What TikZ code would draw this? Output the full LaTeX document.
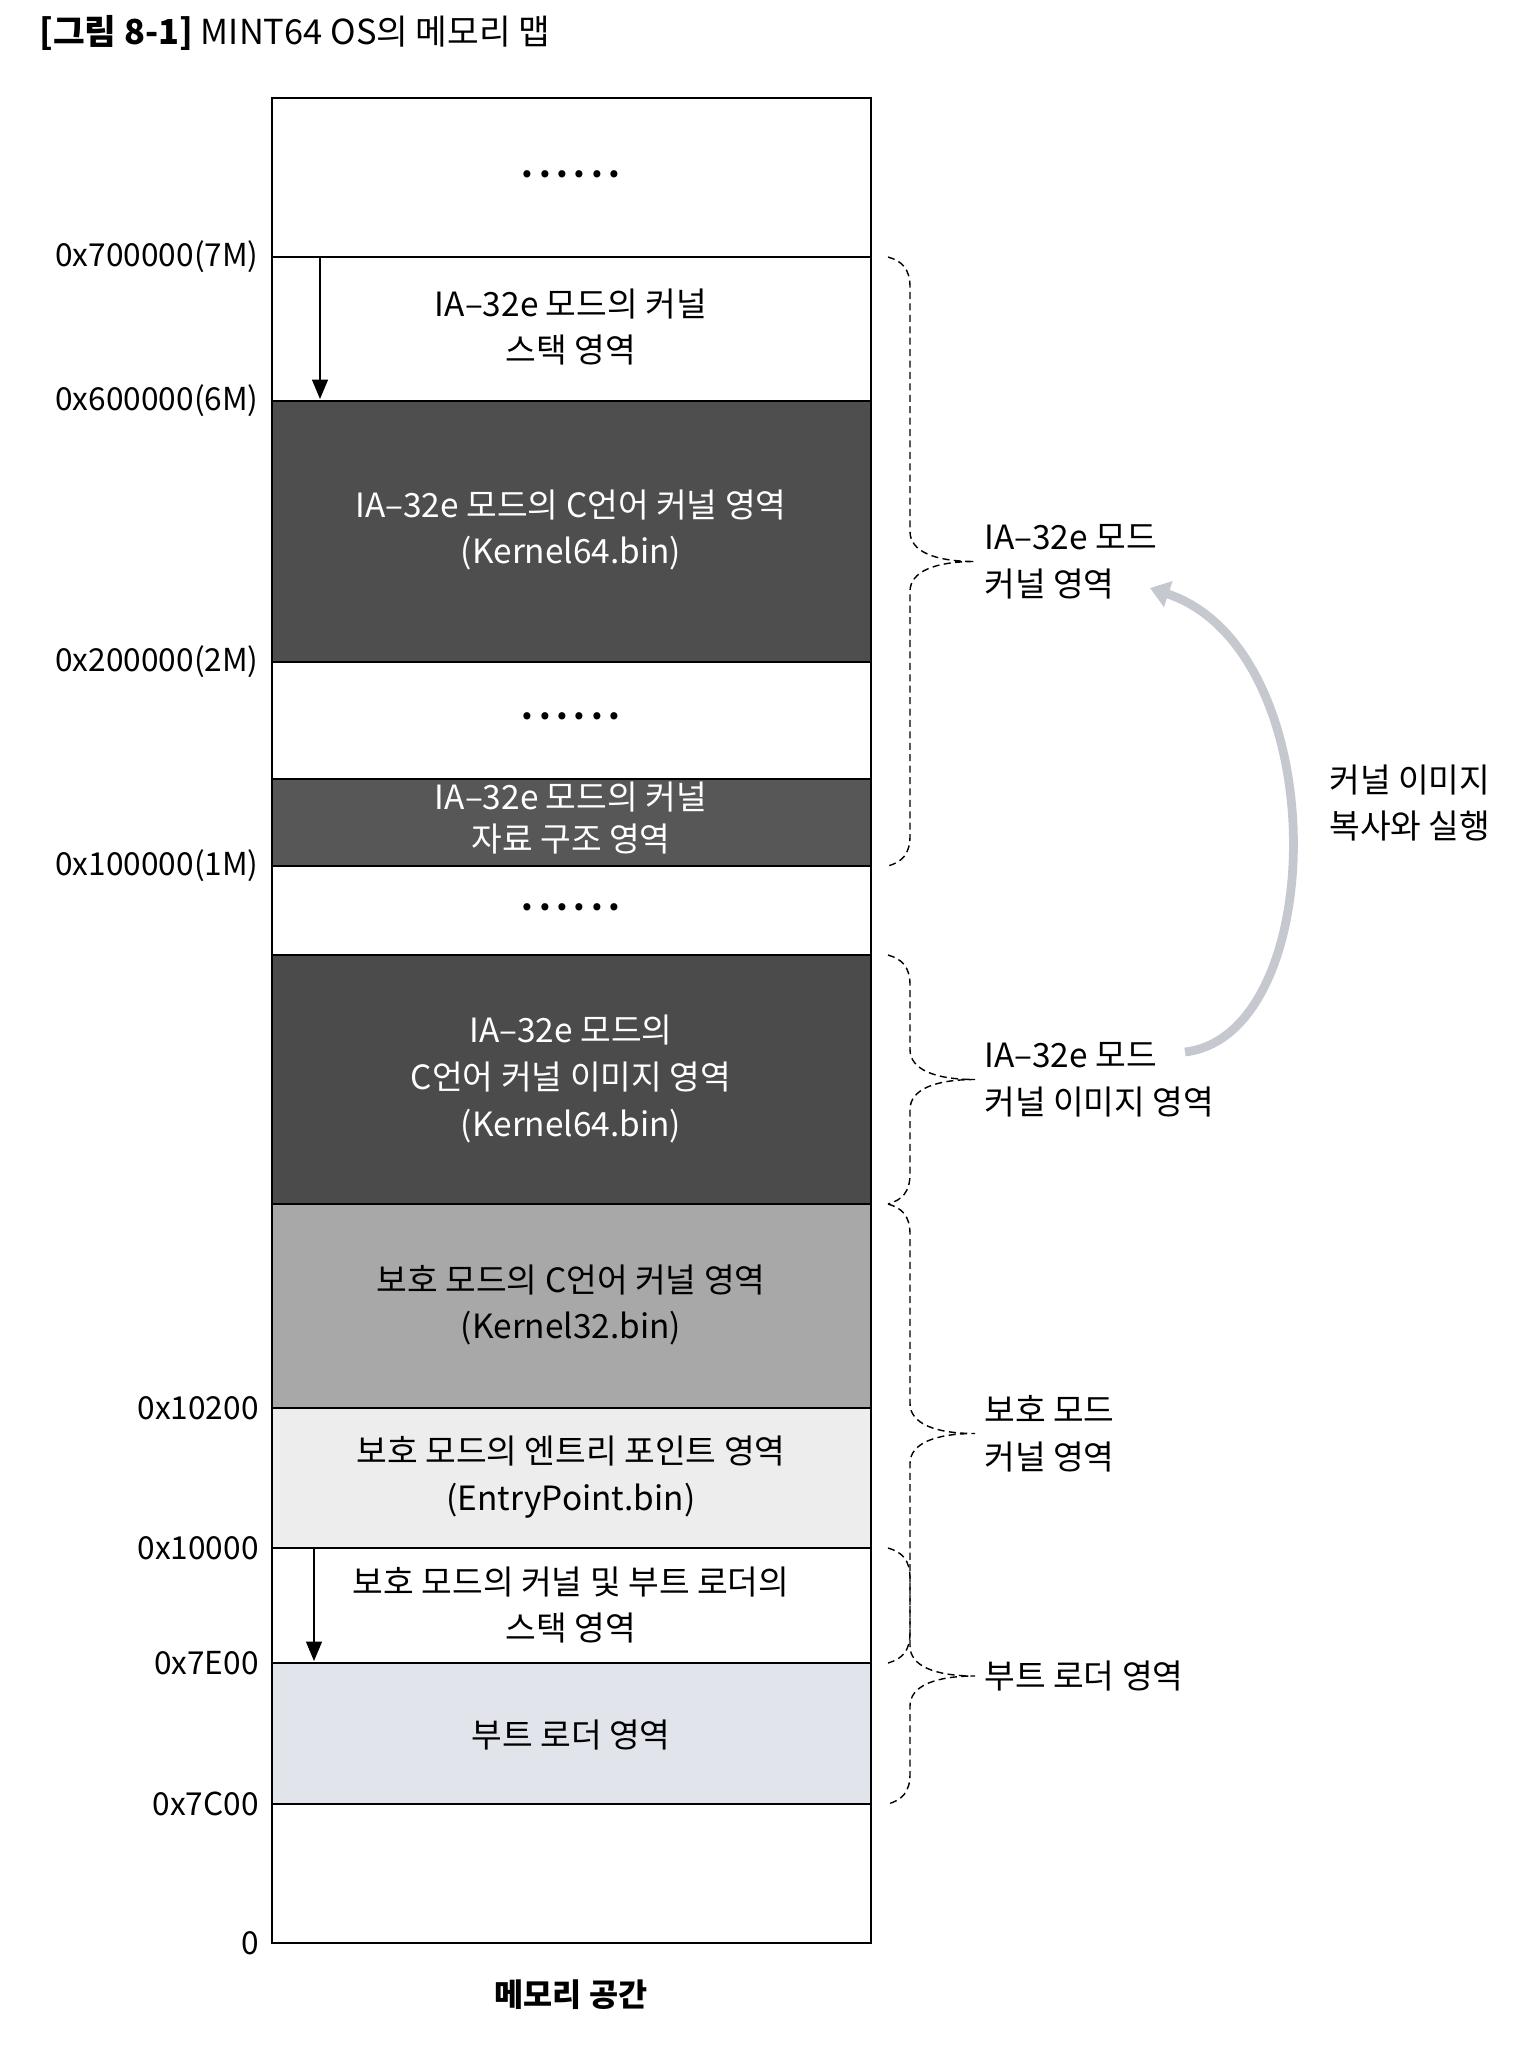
\documentclass[tikz,border=0pt]{standalone}
\usepackage{fontspec}
\setmainfont{Noto Sans CJK KR}
\usetikzlibrary{positioning,arrows.meta}
\definecolor{kdark}{HTML}{4E4E4E}
\definecolor{kdata}{HTML}{575757}
\definecolor{kimg}{HTML}{4B4B4B}
\definecolor{kmid}{HTML}{A8A8A8}
\definecolor{klight}{HTML}{EDEDED}
\definecolor{kboot}{HTML}{E1E4EA}
\definecolor{copygray}{HTML}{C6C8D0}

\begin{document}
\begin{tikzpicture}[x=0.02cm, y=-0.02cm,
    region/.style={draw, line width=0.9pt},
    txt/.style={align=center, inner sep=0pt, font=\fontsize{19}{26.5}\selectfont},
    wtxt/.style={txt, text=white},
    addr/.style={anchor=east, inner sep=0pt, font=\fontsize{18}{22}\selectfont},
    dots/.style={inner sep=0pt, font=\fontsize{19}{22}\selectfont\bfseries},
    brc/.style={line width=0.8pt, dash pattern=on 4pt off 2.5pt},
    brlbl/.style={align=left, inner sep=0pt, font=\fontsize{19}{26.5}\selectfont},
    stackarr/.style={-{Triangle[length=11pt, width=9pt]}, line width=0.9pt},
    copyarr/.style={-{Triangle[length=11pt, width=15pt]}, line width=5pt, draw=copygray}]
  \useasboundingbox (0,0) rectangle (1535,2048);

  \node[anchor=west, inner sep=0pt, font=\fontsize{19.6}{22}\selectfont] (title) at (39,33) {\textbf{[그림 8-1]} MINT64 OS의 메모리 맵};

  % memory regions, top to bottom
  \foreach \ya/\yb/\col in {98/257/white, 257/401/white, 401/662/kdark, 662/779/white, 779/866/kdata, 866/955/white, 955/1204/kimg, 1204/1408/kmid, 1408/1548/klight, 1548/1663/white, 1663/1804/kboot, 1804/1943/white}
    \filldraw[region, fill=\col] (272,\ya) rectangle (871,\yb);

  \node[dots] (d1) at (571,174) {.\,.\,.\,.\,.\,.};
  \node[dots] (d2) at (571,716) {.\,.\,.\,.\,.\,.};
  \node[dots] (d3) at (571,907) {.\,.\,.\,.\,.\,.};

  \node[txt] (stk64) at (571,327) {IA–32e 모드의 커널\\스택 영역};
  \node[wtxt] (k64) at (571,530) {IA–32e 모드의 C언어 커널 영역\\(Kernel64.bin)};
  \node[wtxt, font=\fontsize{19}{23.5}\selectfont] (data64) at (571,818) {IA–32e 모드의 커널\\자료 구조 영역};
  \node[wtxt] (img64) at (571,1079) {IA–32e 모드의\\C언어 커널 이미지 영역\\(Kernel64.bin)};
  \node[txt] (k32) at (571,1305) {보호 모드의 C언어 커널 영역\\(Kernel32.bin)};
  \node[txt] (entry) at (571,1477) {보호 모드의 엔트리 포인트 영역\\(EntryPoint.bin)};
  \node[txt] (stk32) at (571,1605) {보호 모드의 커널 및 부트 로더의\\스택 영역};
  \node[txt] (boot) at (571,1735) {부트 로더 영역};

  % addresses
  \foreach \y/\a in {257/0x700000(7M), 401/0x600000(6M), 662/0x200000(2M), 866/0x100000(1M), 1408/0x10200, 1548/0x10000, 1663/0x7E00, 1804/0x7C00, 1943/0}
    \node[addr] at (259,\y) {\a};

  % stacks grow down
  \coordinate (s1a) at (320,257);
  \coordinate (s1b) at (320,399);
  \coordinate (s2a) at (314,1548);
  \coordinate (s2b) at (314,1661);
  \draw[stackarr] (s1a) -- (s1b);
  \draw[stackarr] (s2a) -- (s2b);

  % dashed braces
  \foreach \ya/\yb/\nm in {257/866/brA, 955/1204/brB, 1204/1663/brC, 1548/1804/brD} {
    \pgfmathsetmacro{\ym}{(\ya+\yb)/2}
    \draw[brc] (888,\ya) .. controls (902,\ya+4) and (910,\ya+12) .. (910,\ya+30) -- (910,\ym-30)
      .. controls (910,\ym-10) and (935,\ym) .. (975,\ym) coordinate (\nm)
      .. controls (935,\ym) and (910,\ym+10) .. (910,\ym+30) -- (910,\yb-30)
      .. controls (910,\yb-12) and (902,\yb-4) .. (888,\yb);
  }
  \node[brlbl, right=0.18cm of brA] (lblA) {IA–32e 모드\\커널 영역};
  \node[brlbl, right=0.18cm of brB] (lblB) {IA–32e 모드\\커널 이미지 영역};
  \node[brlbl, right=0.18cm of brC] (lblC) {보호 모드\\커널 영역};
  \node[brlbl, right=0.18cm of brD] (lblD) {부트 로더 영역};

  % copy and run
  \coordinate (cpyfrom) at (1185,1052);
  \coordinate (cpyto) at (1150,588);
  \draw[copyarr] (cpyfrom) .. controls (1330,1035) and (1335,650) .. (cpyto);
  \node[brlbl, anchor=west] (cpylbl) at (1329,803) {커널 이미지\\복사와 실행};

  \node[inner sep=0pt, font=\fontsize{18}{22}\selectfont\bfseries] (space) at (571,1995) {메모리 공간};
\end{tikzpicture}
\end{document}
